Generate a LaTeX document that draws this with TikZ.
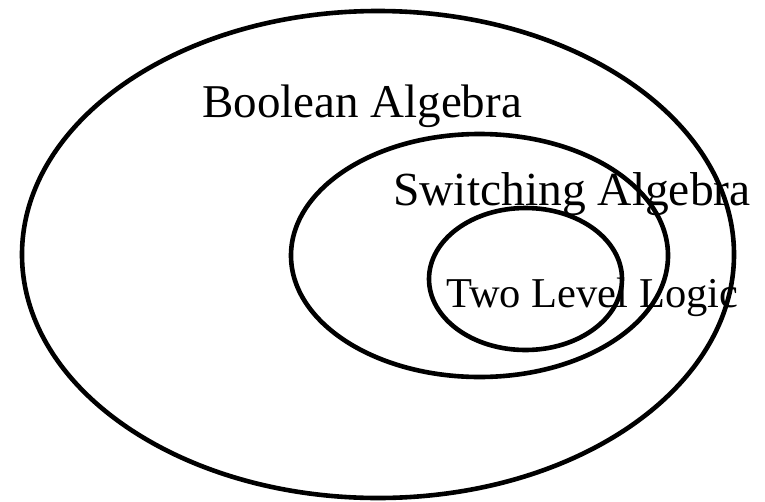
\documentclass[tikz,border=0pt]{standalone}
\usepackage{fontspec}
\setmainfont{Liberation Serif}
\begin{document}
\begin{tikzpicture}[x=1pt,y=-1pt,
  ring/.style={draw=black,line width=4.6pt},
  lbl/.style={inner sep=0pt,anchor=base west,text=black}]
\useasboundingbox (0,0) rectangle (765,501);
\draw[ring] (378,254.5) ellipse [x radius=356, y radius=243.5];
\draw[ring] (479.5,255.5) ellipse [x radius=188.5, y radius=121.5];
\draw[ring] (525.5,279) ellipse [x radius=96.5, y radius=71];
\node[lbl,font=\fontsize{47}{50}\selectfont] (bool) at (202,117) {Boolean Algebra};
\node[lbl,font=\fontsize{47.5}{50}\selectfont] (sw) at (393,205) {Switching Algebra};
\node[lbl,font=\fontsize{42.5}{46}\selectfont] (two) at (446,307) {Two Level Logic};
\end{tikzpicture}
\end{document}
